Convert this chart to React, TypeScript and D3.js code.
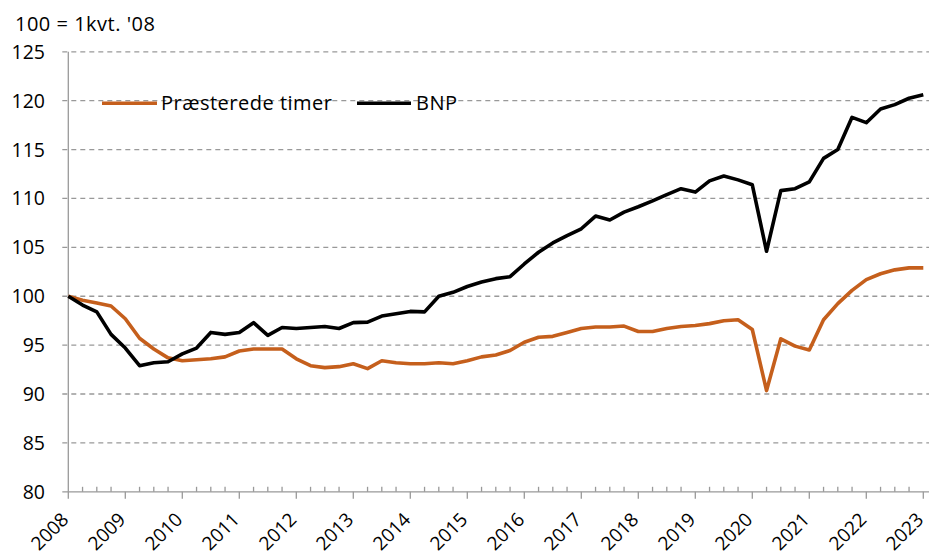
import React from "react";
import * as d3 from "d3";

const startYear = 2008;
const years = d3.range(2008, 2024);
const yTicks = [80, 85, 90, 95, 100, 105, 110, 115, 120, 125];

const hoursLabel = "Præsterede timer";
const gdpLabel = "BNP";

const hours = [
  100, 99.6, 99.3, 99.0, 97.7, 95.7, 94.6, 93.7, 93.4, 93.5,
  93.6, 93.8, 94.4, 94.6, 94.6, 94.6, 93.6, 92.9, 92.7, 92.8,
  93.1, 92.6, 93.4, 93.2, 93.1, 93.1, 93.2, 93.1, 93.4, 93.8,
  94.0, 94.45, 95.3, 95.8, 95.9, 96.3, 96.7, 96.85, 96.85, 96.95,
  96.4, 96.4, 96.7, 96.9, 97.0, 97.2, 97.5, 97.6, 96.6, 90.35,
  95.65, 94.9, 94.5, 97.6, 99.25, 100.6, 101.7, 102.3, 102.7, 102.9,
  102.9,
];

const gdp = [
  100, 99.1, 98.4, 96.1, 94.7, 92.9, 93.2, 93.3, 94.1, 94.7,
  96.3, 96.1, 96.3, 97.3, 96.0, 96.8, 96.7, 96.8, 96.9, 96.7,
  97.3, 97.35, 97.97, 98.2, 98.45, 98.4, 100.0, 100.4, 101.0, 101.45,
  101.8, 102.0, 103.3, 104.5, 105.45, 106.2, 106.9, 108.2, 107.8, 108.6,
  109.15, 109.75, 110.4, 111.0, 110.65, 111.8, 112.3, 111.9, 111.4, 104.6,
  110.8, 111.0, 111.7, 114.1, 115.0, 118.3, 117.75, 119.15, 119.6, 120.25,
  120.6,
];

const W = 929;
const H = 557;
const left = 68.3;
const right = 923.3;
const top = 51.8;
const bottom = 491.8;
const font = "'Open Sans', sans-serif";
const orange = "#C55F1C";

export default function App() {
  const x = d3.scaleLinear().domain([startYear, 2023]).range([left, right]);
  const y = d3.scaleLinear().domain([80, 125]).range([bottom, top]);
  const qx = (i: number) => x(startYear + i / 4);
  const line = d3
    .line<number>()
    .x((_, i) => qx(i))
    .y((d) => y(d))
    .curve(d3.curveLinear);
  const quarters = d3.range(0, 61);
  const legY = y(120) + 2.5;

  return (
    <svg width={W} height={H} style={{ position: "absolute", left: 0, top: 0, background: "#fff" }}>
      <text x={15} y={31} fontFamily={font} fontSize={20} letterSpacing={0.5} fill="#000">100 = 1kvt. '08</text>
      {yTicks.map((t) => (
        <g key={t}>
          {t !== 80 && (
            <line x1={left - 6} x2={W} y1={y(t)} y2={y(t)} stroke="#999" strokeWidth={1.3} strokeDasharray="5,4" />
          )}
          <text x={45} y={y(t) + 7} textAnchor="end" fontFamily={font} fontSize={19.5} fill="#000">{t}</text>
        </g>
      ))}
      <line x1={left} x2={left} y1={top} y2={bottom} stroke="#999" strokeWidth={1.3} />
      <line x1={left - 6} x2={W} y1={bottom} y2={bottom} stroke="#999" strokeWidth={1.3} />
      {quarters.map((i) =>
        i % 4 === 0 ? (
          <line key={i} x1={qx(i)} x2={qx(i)} y1={bottom} y2={bottom + 7} stroke="#999" strokeWidth={1.3} />
        ) : (
          <line key={i} x1={qx(i)} x2={qx(i)} y1={bottom - 5} y2={bottom} stroke="#999" strokeWidth={1.3} />
        )
      )}
      {years.map((yr) => (
        <text
          key={yr}
          transform={`translate(${x(yr) + 1.5},${bottom + 29}) rotate(-45)`}
          textAnchor="end"
          fontFamily={font}
          fontSize={19}
          fill="#000"
        >
          {yr}
        </text>
      ))}
      <path d={line(hours) || ""} fill="none" stroke={orange} strokeWidth={3.6} strokeLinejoin="round" />
      <path d={line(gdp) || ""} fill="none" stroke="#000" strokeWidth={3.6} strokeLinejoin="round" />
      <line x1={102} x2={157} y1={legY} y2={legY} stroke={orange} strokeWidth={3.6} />
      <text x={161} y={legY + 7} fontFamily={font} fontSize={20} letterSpacing={0.5} fill="#000">{hoursLabel}</text>
      <line x1={357} x2={411} y1={legY} y2={legY} stroke="#000" strokeWidth={3.6} />
      <text x={416} y={legY + 7} fontFamily={font} fontSize={20} letterSpacing={0.5} fill="#000">{gdpLabel}</text>
    </svg>
  );
}
